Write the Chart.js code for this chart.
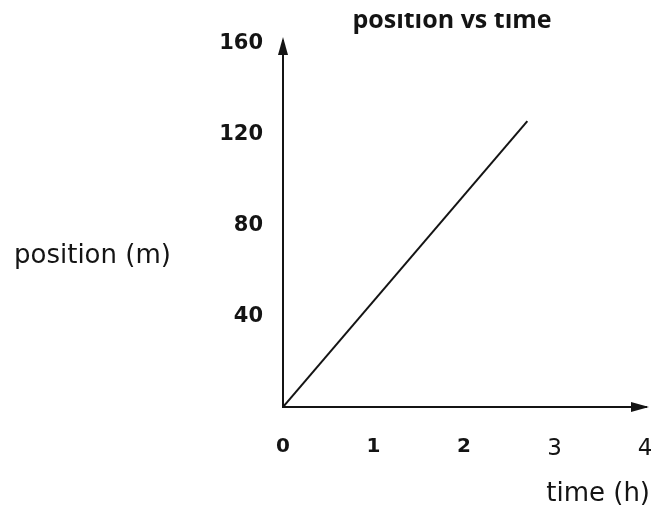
<!DOCTYPE html>
<html>
<head>
<meta charset="utf-8">
<script src="https://cdn.jsdelivr.net/npm/chart.js@4/dist/chart.umd.min.js"></script>
<style>
  html, body { margin: 0; padding: 0; background: #fff; }
  canvas { display: block; }
</style>
</head>
<body>
<canvas id="c" width="651" height="509"></canvas>
<script>
// Chart text
const chartTitle = 'position vs time';
const xAxisLabel = 'time (h)';
const yAxisLabel = 'position (m)';

// Series: position against time
const timeHours = [0, 2.7];
const positionMeters = [0, 126];

// Tick labels
const xTickValues = [0, 1, 2, 3, 4];
const yTickValues = [40, 80, 120, 160];

const ink = '#141414';

// Draws arrowheads on both axes plus the free-standing title and axis captions
const axisDecor = {
  id: 'axisDecor',
  afterDraw(chart) {
    const { ctx, chartArea: ca } = chart;
    ctx.save();
    ctx.strokeStyle = ink;
    ctx.fillStyle = ink;
    ctx.lineWidth = 2;

    // vertical axis arrow
    ctx.beginPath();
    ctx.moveTo(ca.left, ca.top + 2);
    ctx.lineTo(ca.left, ca.top - 4);
    ctx.stroke();
    ctx.beginPath();
    ctx.moveTo(ca.left, ca.top - 7);
    ctx.lineTo(ca.left - 5, ca.top + 11);
    ctx.lineTo(ca.left + 5, ca.top + 11);
    ctx.closePath();
    ctx.fill();

    // horizontal axis arrow
    ctx.beginPath();
    ctx.moveTo(ca.right - 2, ca.bottom);
    ctx.lineTo(ca.right + 2, ca.bottom);
    ctx.stroke();
    ctx.beginPath();
    ctx.moveTo(ca.right + 4, ca.bottom);
    ctx.lineTo(ca.right - 14, ca.bottom - 5);
    ctx.lineTo(ca.right - 14, ca.bottom + 5);
    ctx.closePath();
    ctx.fill();

    // title, trimmed along its top edge
    ctx.save();
    ctx.beginPath();
    ctx.rect(0, 13, chart.width, 40);
    ctx.clip();
    ctx.font = 'bold 25px "Open Sans"';
    ctx.textAlign = 'center';
    ctx.textBaseline = 'alphabetic';
    ctx.fillText(chartTitle, 452, 28);
    ctx.restore();

    // axis captions
    ctx.font = '26px "DejaVu Sans"';
    ctx.textBaseline = 'alphabetic';
    ctx.textAlign = 'left';
    ctx.fillText(yAxisLabel, 14, 263);
    ctx.textAlign = 'right';
    ctx.fillText(xAxisLabel, 650, 501);

    ctx.restore();
  }
};

new Chart(document.getElementById('c'), {
  type: 'scatter',
  data: {
    datasets: [{
      data: timeHours.map((t, i) => ({ x: t, y: positionMeters[i] })),
      showLine: true,
      borderColor: ink,
      borderWidth: 2,
      pointRadius: 0,
      pointHoverRadius: 0,
      fill: false
    }]
  },
  options: {
    responsive: false,
    animation: false,
    events: [],
    layout: { padding: { top: 44, right: 6, left: 0, bottom: 0 } },
    plugins: {
      legend: { display: false },
      tooltip: { enabled: false },
      title: { display: false }
    },
    scales: {
      x: {
        type: 'linear',
        min: 0,
        max: 4,
        grid: { display: false, drawTicks: false },
        border: { display: true, color: ink, width: 2 },
        afterBuildTicks: s => { s.ticks = xTickValues.map(v => ({ value: v })); },
        afterFit: s => { s.height = 102; s.paddingLeft = 0; s.paddingRight = 0; },
        ticks: {
          color: ink,
          padding: 28,
          maxRotation: 0,
          font: c => (c.tick && c.tick.value >= 3)
            ? { family: '"DejaVu Sans"', size: 23, weight: 'normal' }
            : { family: '"DejaVu Sans"', size: 20, weight: 'bold' }
        }
      },
      y: {
        type: 'linear',
        min: 0,
        max: 160,
        grid: { display: false, drawTicks: false },
        border: { display: true, color: ink, width: 2 },
        afterBuildTicks: s => { s.ticks = yTickValues.map(v => ({ value: v })); },
        afterFit: s => { s.width = 283; },
        ticks: {
          color: ink,
          padding: 20,
          font: { family: '"DejaVu Sans"', size: 21, weight: 'bold' }
        }
      }
    }
  },
  plugins: [axisDecor]
});
</script>
</body>
</html>
